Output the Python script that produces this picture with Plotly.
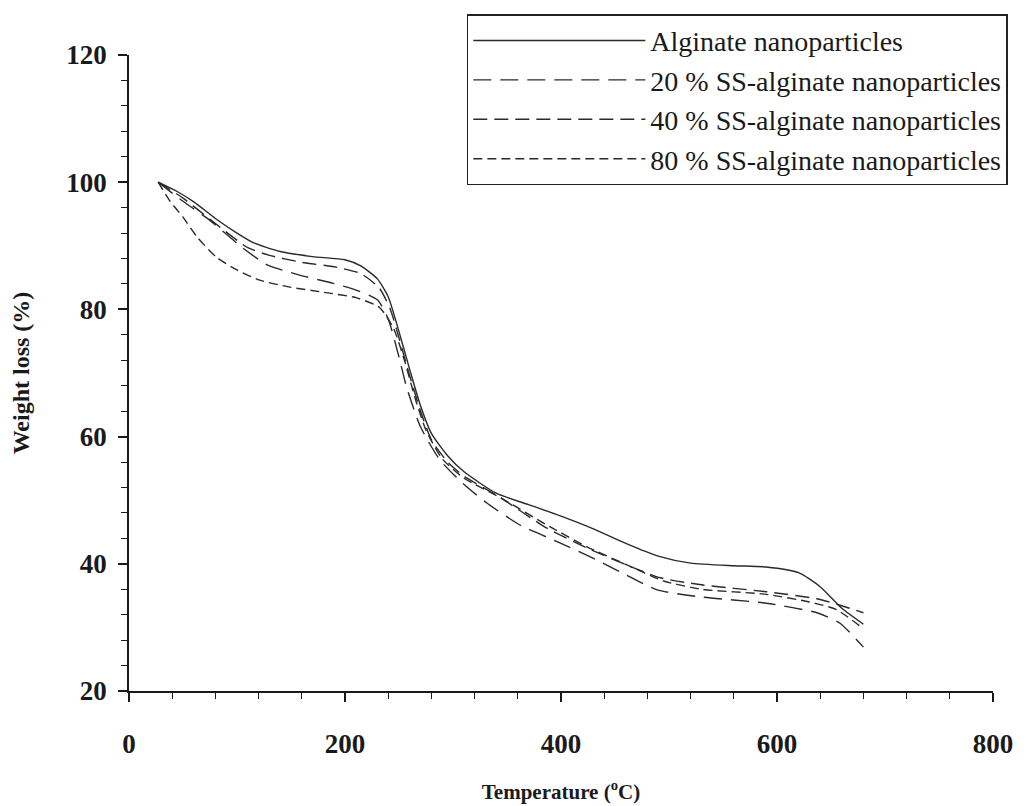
import plotly.graph_objects as go

# Temperature (°C) / weight (%)
alg_x = [27, 45, 60, 80, 100, 115, 140, 170, 200, 215, 230, 240, 250, 260, 270, 280, 295, 310, 340, 370, 400, 430, 460, 490, 520, 560, 590, 620, 640, 660, 680]
alg_y = [100, 98.5, 96.9, 94.3, 92.0, 90.5, 89.1, 88.3, 87.8, 86.8, 84.8, 82.0, 76.5, 70.5, 64.8, 60.5, 57.0, 54.5, 51.1, 49.3, 47.5, 45.5, 43.2, 41.2, 40.1, 39.7, 39.5, 38.6, 36.4, 33.0, 30.5]

ss20_x = [27, 50, 75, 105, 128, 158, 189, 211, 230, 240, 250, 257, 270, 288, 310, 331, 362, 399, 433, 461, 489, 529, 590, 637, 658, 680]
ss20_y = [100, 97.0, 94.0, 89.7, 87.0, 85.4, 84.1, 83.0, 81.5, 78.5, 72.5, 67.8, 61.5, 56.3, 52.5, 49.6, 46.1, 43.3, 40.6, 38.2, 35.9, 34.8, 33.8, 32.3, 30.7, 26.9]

ss40_x = [27, 50, 80, 110, 130, 160, 190, 215, 232, 242, 250, 260, 270, 280, 295, 310, 343, 387, 424, 461, 492, 530, 590, 637, 660, 680]
ss40_y = [100, 97.5, 93.5, 89.7, 88.5, 87.4, 86.7, 85.6, 83.3, 80.0, 75.5, 69.5, 64.0, 59.5, 56.0, 53.8, 50.5, 45.6, 42.5, 39.8, 37.8, 36.7, 35.6, 34.5, 33.4, 32.3]

ss80_x = [27, 38, 50, 63, 81, 100, 121, 149, 180, 211, 232, 245, 255, 265, 275, 290, 310, 345, 390, 425, 460, 495, 530, 590, 630, 655, 680]
ss80_y = [100, 97.0, 94.5, 91.4, 88.2, 86.2, 84.6, 83.5, 82.7, 81.8, 80.3, 77.0, 72.0, 66.0, 61.0, 56.5, 53.5, 50.3, 45.8, 42.6, 39.9, 37.3, 36.0, 35.2, 34.0, 32.8, 29.8]

names = ["Alginate nanoparticles", "20 % SS-alginate nanoparticles",
         "40 % SS-alginate nanoparticles", "80 % SS-alginate nanoparticles"]
xs = [alg_x, ss20_x, ss40_x, ss80_x]
ys = [alg_y, ss20_y, ss40_y, ss80_y]
dashes = ["solid", "18px,9px", "14px,7px", "9px,5px"]

x_ticks = [0, 200, 400, 600, 800]
y_ticks = [20, 40, 60, 80, 100, 120]

fig = go.Figure()
for n, x, y, d in zip(names, xs, ys, dashes):
    fig.add_trace(go.Scatter(x=x, y=y, mode="lines", name=n,
                             line=dict(color="#2a2a2a", width=1.4, dash=d, shape="spline", smoothing=0.6)))

serif = "Liberation Serif, Times New Roman, serif"
fig.update_layout(
    width=1021, height=798,
    margin=dict(l=121, r=36, t=47, b=115, autoexpand=False),
    paper_bgcolor="white", plot_bgcolor="white",
    font=dict(family=serif, color="#1a1a1a"),
    showlegend=True,
    legend=dict(x=0.391, y=1.064, xanchor="left", yanchor="top",
                bordercolor="#222", borderwidth=1.5, bgcolor="white",
                font=dict(family=serif, size=28, color="#1a1a1a"),
                traceorder="normal", itemwidth=172),
    xaxis=dict(range=[0, 800], tickvals=x_ticks, showgrid=False, zeroline=False,
               showline=True, linecolor="#1a1a1a", linewidth=1.5,
               ticks="outside", ticklen=9, tickwidth=1.5, tickcolor="#1a1a1a",
               minor=dict(dtick=40, ticks="outside", ticklen=6, tickwidth=1.3, tickcolor="#1a1a1a"),
               ticklabelstandoff=19,
               tickfont=dict(family=serif, size=27, color="#1a1a1a", weight="bold"),
               title=dict(text="<b>Temperature (<sup>o</sup>C)</b>", standoff=26,
                          font=dict(family=serif, size=21, color="#1a1a1a"))),
    yaxis=dict(range=[20, 120], tickvals=y_ticks, showgrid=False, zeroline=False,
               showline=True, linecolor="#1a1a1a", linewidth=1.5,
               ticks="outside", ticklen=9, tickwidth=1.5, tickcolor="#1a1a1a",
               minor=dict(dtick=4, ticks="outside", ticklen=6, tickwidth=1.3, tickcolor="#1a1a1a"),
               ticklabelstandoff=6,
               tickfont=dict(family=serif, size=27, color="#1a1a1a", weight="bold"),
               title=dict(text="<b>Weight loss (%)</b>", standoff=30,
                          font=dict(family=serif, size=24, color="#1a1a1a"))),
)

fig.write_html("out.html")
